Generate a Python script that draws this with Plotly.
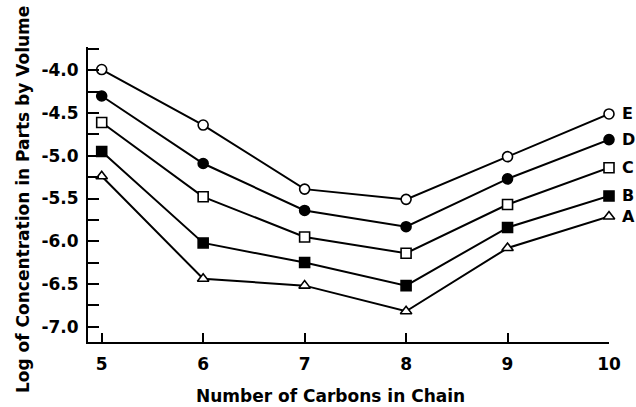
import plotly.graph_objects as go

carbons = [5, 6, 7, 8, 9, 10]
series_names = ["E", "D", "C", "B", "A"]
E = [-3.99, -4.64, -5.39, -5.51, -5.01, -4.51]
D = [-4.30, -5.09, -5.64, -5.83, -5.27, -4.81]
C = [-4.61, -5.48, -5.95, -6.14, -5.57, -5.14]
B = [-4.95, -6.02, -6.25, -6.52, -5.84, -5.47]
A = [-5.24, -6.44, -6.52, -6.82, -6.08, -5.71]
y_tickvals = [-4.0, -4.5, -5.0, -5.5, -6.0, -6.5, -7.0]
y_ticktext = ["-4.0", "-4.5", "-5.0", "-5.5", "-6.0", "-6.5", "-7.0"]
x_tickvals = [5, 6, 7, 8, 9, 10]

FONT = "DejaVu Sans"
series = [E, D, C, B, A]
symbols = ["circle-open", "circle", "square-open", "square", "triangle-up-open"]
sizes = [10, 10, 10, 10, 10]

fig = go.Figure()
for name, vals, sym, sz in zip(series_names, series, symbols, sizes):
    filled = not sym.endswith("open")
    fig.add_trace(go.Scatter(
        x=carbons, y=vals, mode="lines+markers", name=name,
        line=dict(color="black", width=2),
        marker=dict(symbol=sym if filled else sym.replace("-open", ""),
                    size=sz,
                    color="black" if filled else "white",
                    line=dict(color="black", width=1.6)),
        cliponaxis=False, showlegend=False,
    ))
    fig.add_annotation(x=carbons[-1], y=vals[-1], xref="x", yref="y",
                       text=name, showarrow=False, xanchor="left",
                       xshift=11, font=dict(family=FONT, size=16, color="black", weight="bold"))

fig.add_annotation(xref="paper", yref="paper", x=(23 - 88) / 521, y=(342 - 200) / 295,
                   text="Log of Concentration in Parts by Volume", textangle=-90,
                   showarrow=False, xanchor="center", yanchor="middle",
                   font=dict(family=FONT, size=17, color="black", weight="bold"))
fig.add_annotation(xref="paper", yref="paper", x=(330 - 88) / 521, y=-(396 - 342) / 295,
                   text="Number of Carbons in Chain", borderpad=0,
                   showarrow=False, xanchor="center", yanchor="middle",
                   font=dict(family=FONT, size=17, color="black", weight="bold"))

fig.update_layout(
    width=636, height=407,
    margin=dict(l=88, r=27, t=47, b=65),
    paper_bgcolor="white", plot_bgcolor="white",
    font=dict(family=FONT, size=17, color="black", weight="bold"),
    xaxis=dict(range=[4.865, 10.0], tickvals=x_tickvals, ticks="inside", ticklen=9,
               tickwidth=1.5, tickcolor="black", showline=True, linecolor="black",
               linewidth=2, showgrid=False, zeroline=False,
               tickfont=dict(family=FONT, size=17, color="black", weight="bold"),
               ticklabelstandoff=6),
    yaxis=dict(range=[-7.18, -3.726], tickvals=y_tickvals, ticktext=y_ticktext,
               ticks="inside", ticklen=11, tickwidth=1.5, tickcolor="black",
               minor=dict(tickmode="linear", tick0=-4.0, dtick=0.25, ticks="inside",
                          ticklen=11, tickwidth=1.5, tickcolor="black", showgrid=False),
               showline=True, linecolor="black", linewidth=2, showgrid=False,
               zeroline=False,
               tickfont=dict(family=FONT, size=17, color="black", weight="bold"),
               ticklabelstandoff=4),
)

fig.write_html("out.html")
